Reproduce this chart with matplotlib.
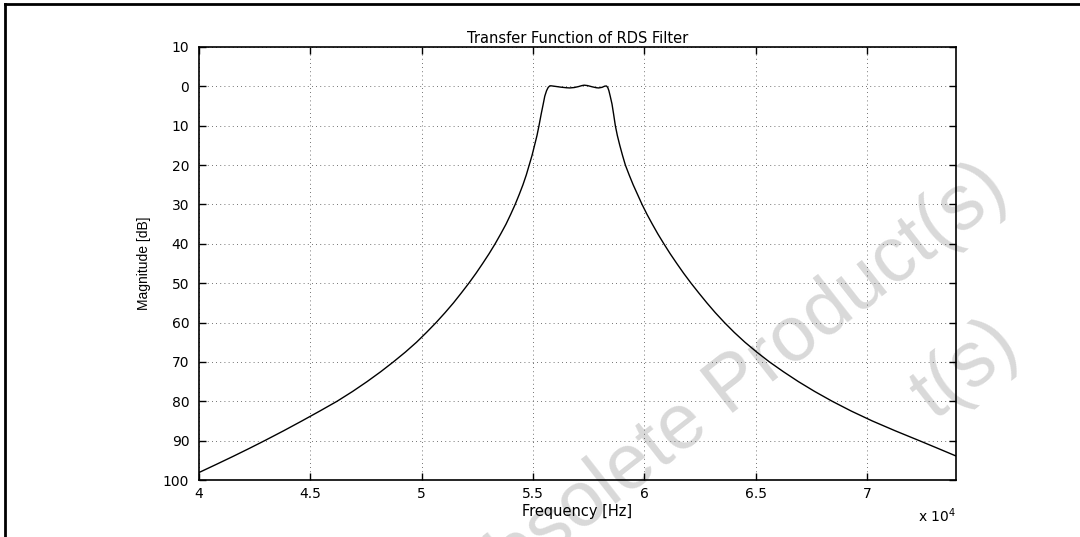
import matplotlib
matplotlib.use("Agg")
import matplotlib.pyplot as plt
from matplotlib.lines import Line2D

# values (frequency in units of 10^4 Hz)
freq_e4 = [4.000, 4.079, 4.153, 4.225, 4.295, 4.380, 4.462, 4.542, 4.620, 4.690,
           4.755, 4.816, 4.873, 4.927, 4.977, 5.022, 5.065, 5.105, 5.143, 5.178,
           5.212, 5.244, 5.274, 5.303, 5.330, 5.355, 5.379, 5.400, 5.420, 5.438,
           5.455, 5.470, 5.483, 5.496, 5.507, 5.518, 5.527, 5.537, 5.546, 5.553,
           5.561, 5.568, 5.575, 5.580, 5.600, 5.625, 5.650, 5.665, 5.685, 5.705,
           5.720, 5.730, 5.745, 5.765, 5.785, 5.795, 5.810, 5.822, 5.830, 5.836,
           5.841, 5.847, 5.855, 5.862, 5.870, 5.879, 5.890, 5.902, 5.915, 5.932,
           5.950, 5.970, 5.990, 6.012, 6.036, 6.061, 6.088, 6.116, 6.146, 6.177,
           6.210, 6.245, 6.281, 6.319, 6.360, 6.404, 6.452, 6.505, 6.562, 6.625,
           6.692, 6.765, 6.844, 6.930, 7.024, 7.127, 7.235, 7.320, 7.400]
magnitude_db = [-98.1, -96.0, -94.0, -92.0, -90.0, -87.5, -85.0, -82.5, -80.0, -77.5,
                -75.0, -72.5, -70.0, -67.5, -65.0, -62.5, -60.0, -57.5, -55.0, -52.5,
                -50.0, -47.5, -45.0, -42.5, -40.0, -37.5, -35.0, -32.5, -30.0, -27.5,
                -25.0, -22.5, -20.0, -17.5, -15.0, -12.5, -10.0, -7.0, -4.5, -2.5,
                -1.1, -0.3, 0.1, 0.15, 0.0, -0.2, -0.35, -0.4, -0.3, -0.05,
                0.2, 0.3, 0.2, -0.1, -0.35, -0.4, -0.25, 0.05, 0.1, -0.3,
                -1.1, -2.5, -4.5, -7.0, -10.0, -12.5, -15.0, -17.5, -20.0, -22.5,
                -25.0, -27.5, -30.0, -32.5, -35.0, -37.5, -40.0, -42.5, -45.0, -47.5,
                -50.0, -52.5, -55.0, -57.5, -60.0, -62.5, -65.0, -67.5, -70.0, -72.5,
                -75.0, -77.5, -80.0, -82.5, -85.0, -87.5, -90.0, -92.0, -93.9]
freq_hz = [f * 1e4 for f in freq_e4]

x_ticks = [40000, 45000, 50000, 55000, 60000, 65000, 70000]
x_tick_labels = ['4', '4.5', '5', '5.5', '6', '6.5', '7']
y_ticks = [10, 0, -10, -20, -30, -40, -50, -60, -70, -80, -90, -100]
y_tick_labels = ['10', '0', '10', '20', '30', '40', '50', '60', '70', '80', '90', '100']

plt.rcParams['font.family'] = ['DejaVu Sans']

fig = plt.figure(figsize=(10.8, 5.37), dpi=100)
ax = fig.add_axes([199 / 1080, 57 / 537, 757 / 1080, 433 / 537])
ax.set_facecolor('none')

# watermark behind the axes (second line only partly shows in the reference)
fig.text(0.672, 0.27, 'Obsolete Product(s)', fontsize=56, color='#d9d9d9',
         rotation=38, ha='center', va='center', family='Liberation Sans',
         zorder=-1)
fig.text(1010 / 1080, 1 - 335 / 537, 't(s)', fontsize=56, color='#d9d9d9',
         rotation=38, rotation_mode='anchor', ha='right', va='center',
         family='Liberation Sans', zorder=-1)

ax.plot(freq_hz, magnitude_db, color='black', linewidth=1.0)

ax.set_xlim(40000, 74000)
ax.set_ylim(-100, 10)
ax.set_xticks(x_ticks)
ax.set_xticklabels(x_tick_labels)
ax.set_yticks(y_ticks)
ax.set_yticklabels(y_tick_labels)

ax.tick_params(direction='in', length=5, width=1, top=True, right=True,
               labelsize=10, colors='black')
ax.tick_params(axis='x', pad=5)
ax.tick_params(axis='y', pad=7)
for sp in ax.spines.values():
    sp.set_linewidth(1.2)

ax.grid(True, color='#444444', linewidth=0.6, linestyle=(0, (1, 4)))

ax.set_title('Transfer Function of RDS Filter', fontsize=10.5, pad=3)
ax.set_xlabel('Frequency [Hz]', fontsize=10.5, labelpad=2)
ax.set_ylabel('Magnitude [dB]', fontsize=10,
              family=['Liberation Sans Narrow', 'Liberation Sans'])
ax.yaxis.set_label_coords(-0.064, 0.5)
ax.text(1.0, -0.06, r'x 10$^4$', transform=ax.transAxes, ha='right', va='top',
        fontsize=10)

# page frame of the document figure
fig.add_artist(Line2D([5 / 1080, 5 / 1080], [0, 1 - 4 / 537], color='black',
                      linewidth=2, transform=fig.transFigure))
fig.add_artist(Line2D([5 / 1080, 1], [1 - 4 / 537, 1 - 4 / 537], color='black',
                      linewidth=2, transform=fig.transFigure))

fig.savefig('out.png', dpi=100)
